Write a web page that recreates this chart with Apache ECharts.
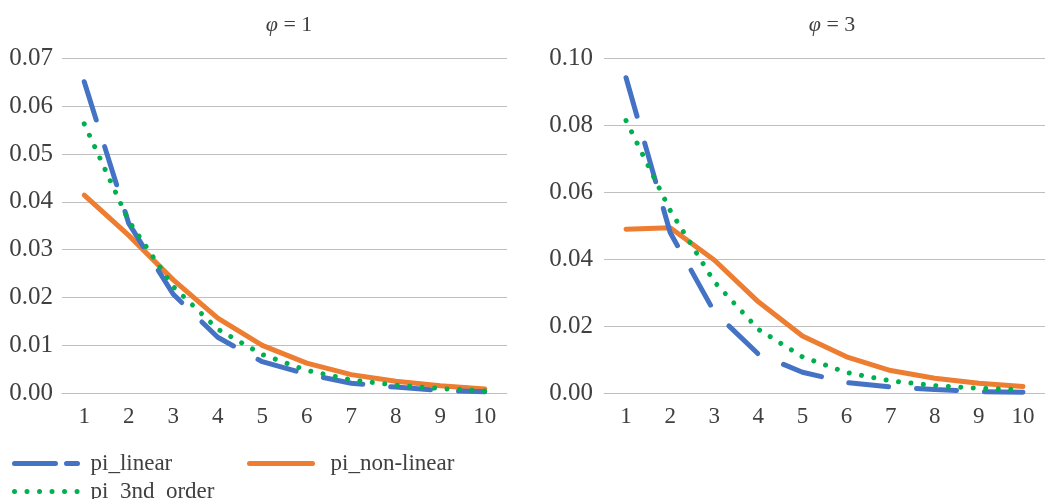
<!DOCTYPE html>
<html>
<head>
<meta charset="utf-8">
<script src="https://cdn.jsdelivr.net/npm/echarts@6/dist/echarts.min.js"></script>
<style>
  html, body { margin: 0; padding: 0; background: #fff; }
  #main { width: 1045px; height: 499px; }
</style>
</head>
<body>
<div id="main"></div>
<script>
// categories (x axis)
const steps = ['1', '2', '3', '4', '5', '6', '7', '8', '9', '10'];

// phi = 1
const linear1 = [0.0651, 0.0355, 0.0207, 0.0117, 0.0066, 0.0040, 0.0021, 0.0013, 0.0006, 0.0003];
const nonLinear1 = [0.0414, 0.0330, 0.0237, 0.0157, 0.0100, 0.0063, 0.0039, 0.0025, 0.0016, 0.0009];
const thirdOrder1 = [0.0563, 0.0360, 0.0223, 0.0134, 0.0081, 0.0048, 0.0028, 0.0017, 0.0010, 0.0005];

// phi = 3
const linear3 = [0.0942, 0.0480, 0.0243, 0.0117, 0.0063, 0.0032, 0.0019, 0.0011, 0.0005, 0.0003];
const nonLinear3 = [0.0490, 0.0494, 0.0398, 0.0273, 0.0171, 0.0109, 0.0068, 0.0045, 0.0030, 0.0020];
const thirdOrder3 = [0.0814, 0.0546, 0.0333, 0.0191, 0.0109, 0.0062, 0.0037, 0.0023, 0.0015, 0.0010];

const names = ['pi_linear', 'pi_non-linear', 'pi_3nd_order'];
const colors = ['#4472C4', '#ED7D31', '#00B050'];

const font = '"Liberation Serif", "DejaVu Serif", serif';
const txt = '#404040';
const gridColor = '#bfbfbf';

const chart = echarts.init(document.getElementById('main'));

function xAxis(idx) {
    return {
        type: 'category',
        gridIndex: idx,
        data: steps,
        boundaryGap: true,
        axisLine: { show: true, lineStyle: { color: gridColor, width: 1 } },
        axisTick: { show: false },
        axisLabel: { color: txt, fontFamily: font, fontSize: 23, margin: 12 }
    };
}

function yAxis(idx, max, interval, margin) {
    return {
        type: 'value',
        gridIndex: idx,
        min: 0,
        max: max,
        interval: interval,
        axisLine: { show: false },
        axisTick: { show: false },
        splitLine: { lineStyle: { color: gridColor, width: 1 } },
        axisLabel: {
            color: txt, fontFamily: font, fontSize: 25, margin: margin,
            formatter: v => v.toFixed(2)
        }
    };
}

const styles = [
    { width: 5, type: [40, 28], cap: 'round' },
    { width: 5, type: 'solid', cap: 'round' },
    { width: 5, type: [0.01, 12.5], cap: 'round' }
];

function series(i, data, idx) {
    return {
        name: names[i],
        type: 'line',
        xAxisIndex: idx,
        yAxisIndex: idx,
        data: data,
        symbol: 'none',
        z: i === 2 ? 4 : (i === 0 ? 3 : 2),
        lineStyle: Object.assign({ color: colors[i] }, styles[i]),
        itemStyle: { color: colors[i] }
    };
}

function legend(name, left, top, lineType, textGap) {
    return {
        data: [name],
        left: left,
        top: top,
        padding: 0,
        itemWidth: 63,
        itemHeight: 10,
        selectedMode: false,
        itemStyle: { opacity: 0 },
        lineStyle: { width: 5, type: lineType, cap: 'round', opacity: 1 },
        textStyle: { color: txt, fontFamily: font, fontSize: 23, padding: [0, 0, 0, textGap] }
    };
}

function title(label, x) {
    return {
        text: '{i|φ} = ' + label,
        left: x, top: 9, textAlign: 'center',
        textStyle: {
            color: txt, fontFamily: font, fontSize: 22, fontWeight: 'normal',
            rich: { i: { fontFamily: font, fontSize: 22, fontStyle: 'italic', color: txt } }
        }
    };
}

const option = {
    animation: false,
    title: [title('1', 284), title('3', 827)],
    legend: [
        legend(names[0], 12, 452, [41, 11], 8),
        legend(names[1], 247, 452, 'solid', 13),
        legend(names[2], 12, 480, [0.01, 12.5], 8)
    ],
    grid: [
        { left: 62, width: 445, top: 58.3, bottom: 105.7 },
        { left: 604, width: 446, top: 58.3, bottom: 105.7 }
    ],
    xAxis: [xAxis(0), xAxis(1)],
    yAxis: [yAxis(0, 0.07, 0.01, 9), yAxis(1, 0.1, 0.02, 11)],
    series: [
        series(0, linear1, 0),
        series(1, nonLinear1, 0),
        series(2, thirdOrder1, 0),
        series(0, linear3, 1),
        series(1, nonLinear3, 1),
        series(2, thirdOrder3, 1)
    ]
};

chart.setOption(option);
</script>
</body>
</html>
